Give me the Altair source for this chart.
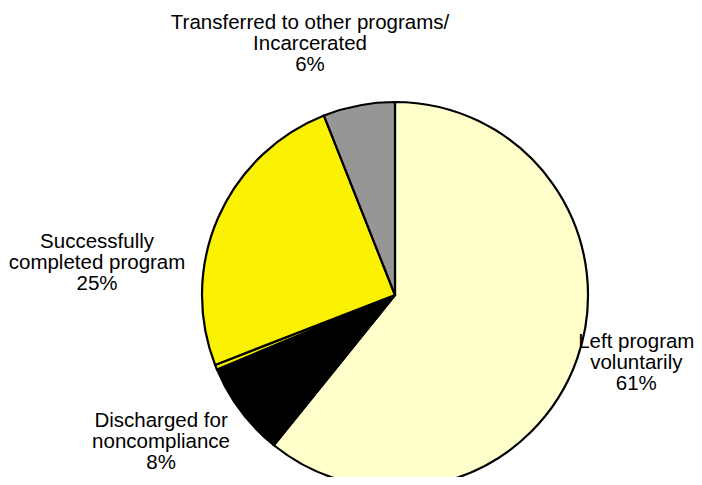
import altair as alt
import pandas as pd

categories = ["Left program voluntarily", "Discharged for noncompliance", "Other",
              "Successfully completed program", "Transferred to other programs/ Incarcerated"]
values = [60.8, 7.9, 0.4, 24.9, 6.0]
labels = ["Left program\nvoluntarily\n61%", "Discharged for\nnoncompliance\n8%", "",
          "Successfully\ncompleted program\n25%", "Transferred to other programs/\nIncarcerated\n6%"]
colors = ["#FFFFCC", "#000000", "#F5EC00", "#FAF200", "#969696"]

df = pd.DataFrame({"cat": categories, "value": values, "label": labels,
                   "idx": list(range(len(categories)))})

CX, CY, R = 387, 287, 193

base = alt.Chart(df).encode(
    theta=alt.Theta("value:Q", stack=True),
    order=alt.Order("idx:Q"),
)

pie = base.mark_arc(stroke="black", strokeWidth=2.2, radius=R).encode(
    x=alt.value(CX), y=alt.value(CY),
    color=alt.Color("cat:N", scale=alt.Scale(domain=categories, range=colors), legend=None),
)

offsets = {0: (15, -33), 1: (-42, -18), 3: (-78, 43), 4: (-40, -36)}
layers = [pie]
for i, (dx, dy) in offsets.items():
    t = base.transform_calculate(
        txt=f"datum.idx == {i} ? datum.label : ''"
    ).mark_text(
        radius=240, dx=dx, dy=dy, align="center", baseline="middle",
        font="Liberation Sans", fontSize=20.5, lineHeight=21, lineBreak="\n", color="black"
    ).encode(x=alt.value(CX), y=alt.value(CY), text="txt:N")
    layers.append(t)

chart = alt.layer(*layers).properties(
    width=686, height=469, padding=0, autosize=alt.AutoSizeParams(type="none")
).configure_view(stroke=None)

chart.save("out.html", embed_options={"renderer": "svg", "actions": False})
